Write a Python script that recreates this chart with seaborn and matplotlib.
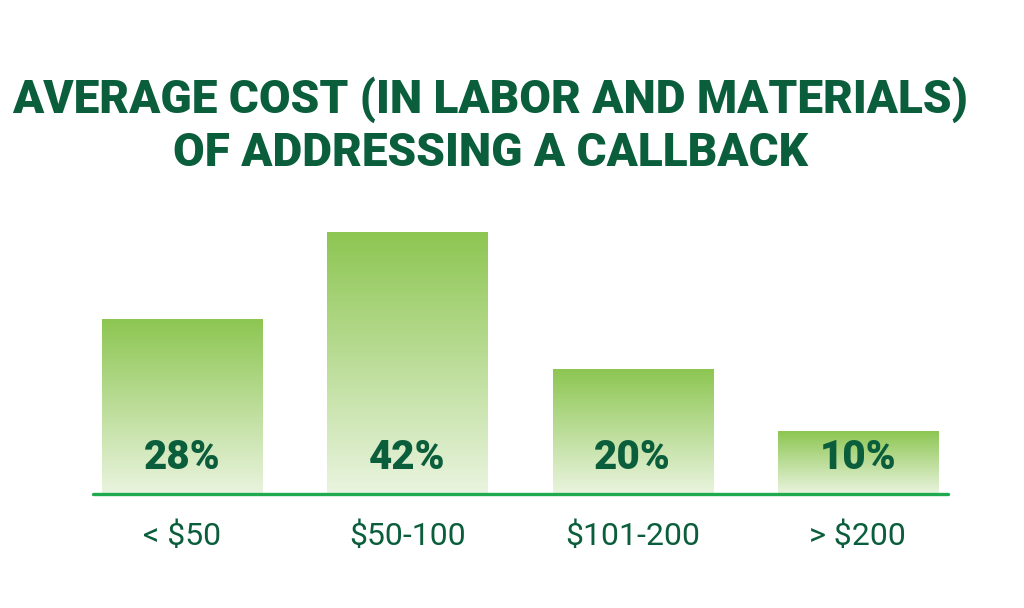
import matplotlib
matplotlib.use("Agg")
import matplotlib.pyplot as plt
import seaborn as sns
import numpy as np
import pandas as pd
from matplotlib.colors import LinearSegmentedColormap

categories = ["< $50", "$50-100", "$101-200", "> $200"]
values = [28, 42, 20, 10]
labels = ["28%", "42%", "20%", "10%"]
title_lines = ["AVERAGE COST (IN LABOR AND MATERIALS)", "OF ADDRESSING A CALLBACK"]

dark_green = "#0b5e3c"
line_green = "#1faa50"
grad = LinearSegmentedColormap.from_list("g", ["#eaf4df", "#8dc652"])

sns.set_style("white")
plt.rcParams["font.family"] = ["Roboto", "DejaVu Sans"]

df = pd.DataFrame({"cat": categories, "val": values})

fig = plt.figure(figsize=(10.24, 6.08), dpi=100)
ax = fig.add_axes([93 / 1024, (608 - 494) / 608, 855 / 1024, (494 - 232) / 608])
sns.barplot(data=df, x="cat", y="val", ax=ax, width=0.711, color="#8dc652")

# gradient fill in place of the flat bars
gradient = np.linspace(0, 1, 256).reshape(-1, 1)
for p, lab in zip(ax.patches, labels):
    x0, y0 = p.get_x(), p.get_y()
    w, h = p.get_width(), p.get_height()
    ax.imshow(gradient, cmap=grad, origin="lower", aspect="auto",
              extent=[x0, x0 + w, y0, y0 + h], zorder=1)
    p.set_visible(False)
    ax.text(x0 + w / 2, 5.8, lab, ha="center", va="center", fontsize=29,
            fontweight="black", color=dark_green, zorder=3)

ax.set_xlim(-0.396, 3.4)
ax.set_ylim(0, 42)
ax.axhline(0, color=line_green, lw=2.4, zorder=4, clip_on=False)
for s in ax.spines.values():
    s.set_visible(False)
ax.set_yticks([])
ax.set_xlabel("")
ax.set_ylabel("")
ax.tick_params(axis="x", length=0, pad=20, labelsize=23, labelcolor=dark_green)

for i, line in enumerate(title_lines):
    fig.text(0.479, (608 - 100 - 53 * i) / 608, line, ha="center", va="center",
             fontsize=33, fontweight="black", color=dark_green)

fig.savefig("out.png", dpi=100, facecolor="white")
